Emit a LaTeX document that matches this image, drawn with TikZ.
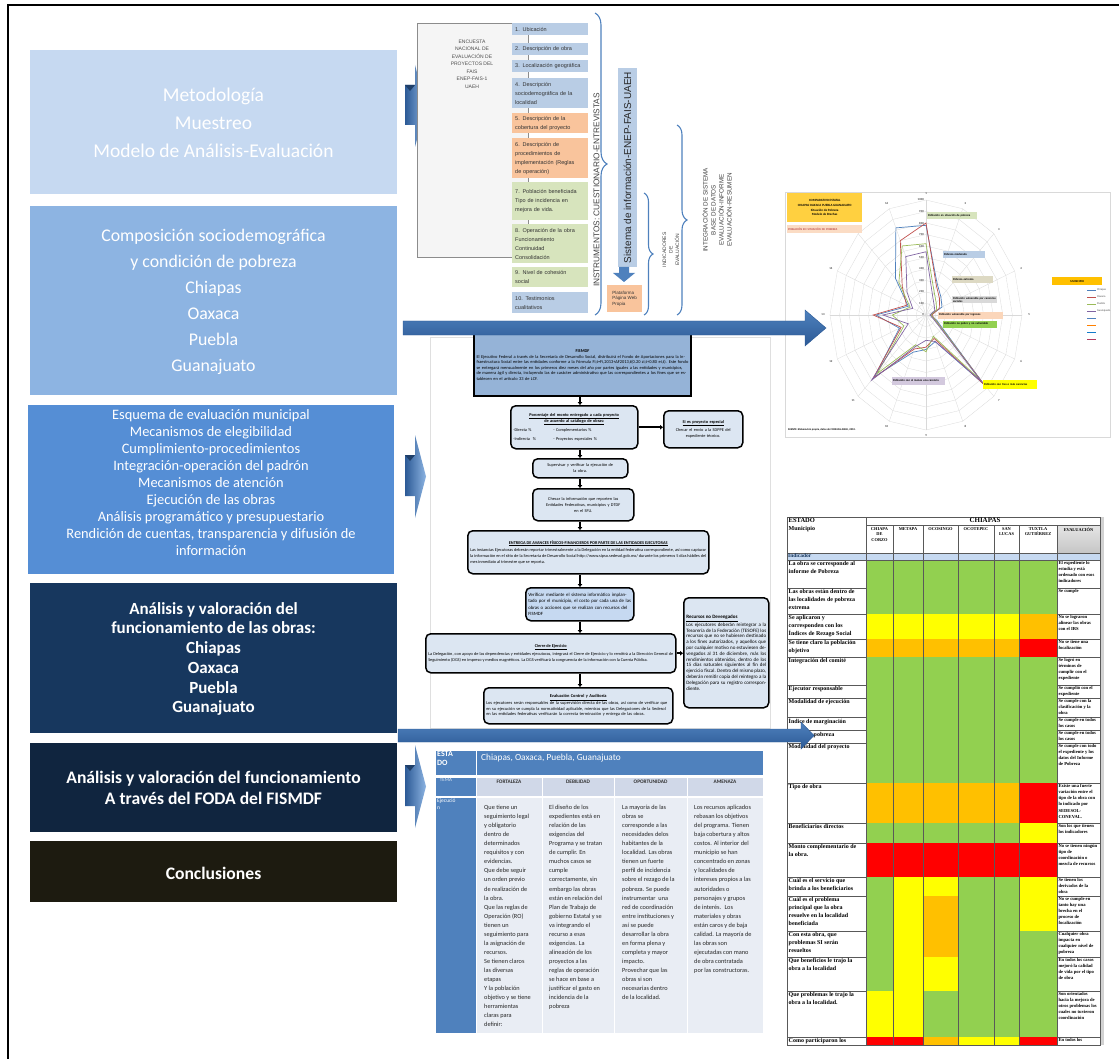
\documentclass[tikz,border=0pt]{standalone}
\usepackage{fontspec}
\setmainfont{Carlito}
\newfontfamily\arialfont{Liberation Sans}
\newfontfamily\timesfont{Liberation Serif}
\usetikzlibrary{positioning,arrows.meta,decorations.pathreplacing}
\newcommand\setfs[2]{\fontsize{#1}{#2}\selectfont}

\definecolor{cMet}{HTML}{C6D9F1}
\definecolor{cSoc}{HTML}{8DB4E2}
\definecolor{cEsq}{HTML}{558ED5}
\definecolor{cAna}{HTML}{17375E}
\definecolor{cFoda}{HTML}{10253F}
\definecolor{cCon}{HTML}{1D1B10}
\definecolor{cItB}{HTML}{B9CDE5}
\definecolor{cItO}{HTML}{F9C49C}
\definecolor{cItG}{HTML}{D7E4BD}
\definecolor{cBrace}{HTML}{4F81BD}
\definecolor{cArr}{HTML}{4F81BD}
\definecolor{cArrD}{HTML}{2C5A96}
\definecolor{cFis}{HTML}{95B3D7}
\definecolor{cFlow}{HTML}{DCE6F2}
\definecolor{tG}{HTML}{92D050}
\definecolor{tY}{HTML}{FFFF00}
\definecolor{tO}{HTML}{FFC000}
\definecolor{tR}{HTML}{FF0000}
\definecolor{cHead}{HTML}{4F81BD}
\definecolor{cHd2}{HTML}{D0D8E8}
\definecolor{cCell}{HTML}{E9EDF4}
\definecolor{cGrid}{HTML}{D9D9D9}
\definecolor{cTan}{HTML}{DDD9C3}
\definecolor{sChi}{HTML}{4F81BD}
\definecolor{sOax}{HTML}{C0504D}
\definecolor{sPue}{HTML}{9BBB59}
\definecolor{sGto}{HTML}{8064A2}

\tikzset{
  lbox/.style={anchor=north west, minimum width=367pt, inner sep=0pt},
  ltext/.style={text=white, align=center, inner sep=0pt},
  item/.style={anchor=north west, text width=70pt, inner sep=3pt, align=left,
    font=\arialfont\setfs{5.5}{9}, text=black!80},
  brc/.style={draw=cBrace, line width=1.1pt, decorate, decoration={brace, amplitude=#1}},
  vlab/.style={rotate=90, align=center, text=black!75, inner sep=0pt},
  fbox/.style={draw=black, line width=1.5pt, rounded corners=5pt, fill=cFlow,
    anchor=north west, inner sep=2.5pt, font=\setfs{4.2}{5.5}, align=left},
  flow/.style={line width=1.8pt, -{Triangle[length=3pt,width=4.5pt]}},
  rlab/.style={font=\bfseries\setfs{3}{3.5}, inner sep=0pt, text=black!70},
  rtag/.style={anchor=north west, inner sep=0.8pt, font=\bfseries\setfs{2.9}{3.4}, align=left},
  trow/.style={anchor=north west, inner sep=1pt, text width=76pt, align=flush left,
    font=\timesfont\bfseries\setfs{6}{8.2}},
  tev/.style={anchor=north west, inner sep=0.8pt, text width=39pt, align=flush left,
    font=\timesfont\bfseries\setfs{4.6}{6.2}},
  thd/.style={anchor=north, inner sep=0.5pt, align=center, font=\timesfont\bfseries\setfs{4.4}{5.3}},
  tline/.style={draw=black!65, line width=0.4pt},
  fcell/.style={draw=white, line width=0.8pt},
  ftxt/.style={anchor=north west, inner sep=0pt, align=left, font=\setfs{6.3}{9.05}, text=black!85},
  fhd/.style={anchor=north, inner sep=0pt, font=\bfseries\setfs{5.3}{6}, text=black!80},
}

\begin{document}
\begin{tikzpicture}[x=1pt,y=-1pt]
\useasboundingbox (0,0) rectangle (1119,1059);
% frame
\draw[line width=2pt] (8,1059) -- (8,5) -- (1119,5);

% left column
\node[lbox, fill=cMet, minimum height=144pt] (met) at (30,50) {};
\node[ltext, font=\setfs{19.5}{28}] (mett) at (213.5,123) {Metodología\\Muestreo\\Modelo de Análisis-Evaluación};
\node[lbox, fill=cSoc, minimum height=189pt] (soc) at (30,206) {};
\node[ltext, font=\setfs{17.8}{26}] (soct) at (213.5,302) {Composición sociodemográfica\\y condición de pobreza\\Chiapas\\Oaxaca\\Puebla\\Guanajuato};
\node[lbox, fill=cEsq, minimum height=169pt, minimum width=366pt] (esq) at (28,405) {};
\node[ltext, font=\setfs{14.4}{17}] (esqt) at (211,483) {Esquema de evaluación municipal\\Mecanismos de elegibilidad\\Cumplimiento-procedimientos\\Integración-operación del padrón\\Mecanismos de atención\\Ejecución de las obras\\Análisis programático y presupuestario\\Rendición de cuentas, transparencia y difusión de\\información};
\node[lbox, fill=cAna, minimum height=150pt] (ana) at (30,583) {};
\node[ltext, font=\bfseries\setfs{17}{19.7}] (anat) at (213.5,659) {Análisis y valoración del\\funcionamiento de las obras:\\Chiapas\\Oaxaca\\Puebla\\Guanajuato};
\node[lbox, fill=cFoda, minimum height=89pt] (foda) at (30,743) {};
\node[ltext, font=\bfseries\setfs{17.6}{20.7}] (fodat) at (213.5,788) {Análisis y valoración del funcionamiento\\A través del FODA del FISMDF};
\node[lbox, fill=cCon, minimum height=61pt] (con) at (30,841) {};
\node[ltext, font=\bfseries\setfs{17.6}{20}] (cont) at (213.5,873) {Conclusiones};

% chevrons
\foreach \ya/\yb in {65/147, 435/518, 745/828} {
  \shade[left color=cArrD, right color=cSoc] (405,\ya+20) -- (415,\ya+20) -- (415,\ya) -- (426,{(\ya+\yb)/2}) -- (415,\yb) -- (415,\yb-22) -- (405,\yb-22) -- cycle;
  \fill[cArrD!70!black] (405,\ya+20) -- (415,\ya+20) -- (410,\ya+26) -- cycle;
}

% encuesta
\node[draw=black!45, fill=gray!8, anchor=north west, minimum width=111pt, minimum height=234pt, inner sep=0pt] (enc) at (417,23) {};
\node[align=center, font=\arialfont\setfs{5}{7.5}, text=black!70] (enct) at (472,64) {ENCUESTA\\NACIONAL DE\\EVALUACIÓN DE\\PROYECTOS DEL\\FAIS\\ENEP-FAIS-1\\UAEH};
\foreach \yt/\h/\col/\txt [count=\k] in {
  23/12/cItB/{1. Ubicación},
  43/12/cItB/{2. Descripción de obra},
  60/12/cItB/{3. Localización geográfica},
  78/30/cItB/{4. Descripción\\sociodemográfica de la\\localidad},
  113/20/cItO/{5. Descripción de la\\cobertura del proyecto},
  138/40/cItO/{6. Descripción de\\procedimientos de\\implementación (Reglas\\de operación)},
  182/38/cItG/{7. Población beneficiada\\Tipo de incidencia en\\mejora de vida.},
  224/39/cItG/{8. Operación de la obra\\Funcionamiento\\Continuidad\\Consolidación},
  267/20/cItG/{9. Nivel de cohesión\\social},
  292/21/cItB/{10. Testimonios\\cualitativos}}
  \node[item, fill=\col, minimum height=\h pt] (it\k) at (512,\yt) {\txt};

% braces
\draw[brc=12pt] (595,13) -- (595,315);
\node[vlab, font=\arialfont\setfs{8.3}{9}] (instr) at (596.5,190) {INSTRUMENTOS: CUESTIONARIO-ENTREVISTAS};
\node[vlab, fill=cItB, minimum width=199pt, minimum height=19pt, font=\arialfont\setfs{10}{11}, text=black!85] (sis) at (627.5,167.5) {Sistema de información-ENEP-FAIS-UAEH};
\fill[cArr] (619,267) -- (629,267) -- (629,273) -- (635,273) -- (624,282) -- (613,273) -- (619,273) -- cycle;
\node[anchor=north west, fill=cItO, minimum width=35pt, minimum height=27pt, inner sep=2pt, align=left, font=\arialfont\setfs{4.5}{5.6}, text=black!80] (plat) at (607,285) {Plataforma\\Página Web\\Propia};
\draw[brc=9pt] (644,193) -- (644,315);
\node[vlab, font=\arialfont\setfs{5}{6.5}] (indic) at (671,250) {INDICADORES\\DE\\EVALUACIÓN};
\draw[brc=10pt] (677,125) -- (677,315);
\node[vlab, font=\arialfont\setfs{6.3}{8}] (integ) at (717,210) {INTEGRACIÓN DE SISTEMA\\BASE DE DATOS\\EVALUACIÓN-INFORME\\EVALUACIÓN-RESUMEN};

% flowchart
\draw[gray!25] (430,337) rectangle (770,728);
\coordinate (axis) at (580,0);
\node[fbox, rounded corners=0pt, fill=cFis, line width=2pt, minimum height=62pt, text width=212pt, font=\setfs{4.4}{5.6}] (fis) at (473,333) {\makebox[212pt]{\textbf{FISMDF}}\\El Ejecutivo Federal a través de la Secretaría de Desarrollo Social, distribuirá el Fondo de Aportaciones para la Infraestructura Social entre las entidades conforme a la Fórmula Fi,t=Fi,2013+ΔF2013,t(0.20 zi,t+0.80 ei,t). Este fondo se entregará mensualmente en los primeros diez meses del año por partes iguales a las entidades y municipios, de manera ágil y directa, incluyendo las de carácter administrativo que las correspondientes a los fines que se establecen en el artículo 33 de LCF.};
\node[fbox, minimum height=43pt, text width=122pt, font=\setfs{4.3}{6}] (pct) at (510,405) {\makebox[122pt]{\underline{\textbf{Porcentaje del monto entregado a cada proyecto}}}\\\makebox[122pt]{\underline{\textbf{de acuerdo al catálogo de obras:}}}\\[3pt]\makebox[40pt][l]{-Directa \%}- Complementarios \%\\[3pt]\makebox[40pt][l]{-Indirecta \ \%}- Proyectos especiales \%};
\node[fbox, minimum height=37pt, text width=74pt, align=center, font=\setfs{4.3}{6}] (esp) at (663,410) {\underline{\textbf{Si es proyecto especial}}\\[2pt]Checar el envío a la SDPPE del\\expediente técnico.};
\node[fbox, minimum height=19pt, text width=90pt, align=center, font=\setfs{4.3}{6}] (sup) at (532,458) {Supervisar y verificar la ejecución de\\la obra.};
\node[fbox, minimum height=32pt, text width=96pt, align=center, font=\setfs{4.3}{6}] (chk) at (532,488) {Checar la información que reporten las\\Entidades Federativas, municipios y DTDF\\en el SFU.};
\node[fbox, minimum height=43pt, text width=236pt, align=justify, font=\setfs{4.3}{5.8}] (ent) at (467,530) {\makebox[236pt]{\underline{\textbf{ENTREGA DE AVANCES FÍSICOS-FINANCIEROS POR PARTE DE LAS ENTIDADES EJECUTORAS}}}\\[2pt]Las instancias Ejecutoras deberán reportar trimestralmente a la Delegación en la entidad federativa correspondiente, así como capturar la información en el sitio de la Secretaría de Desarrollo Social http://www.sipso.sedesol.gob.mx/ durante los primeros 5 días hábiles del mes inmediato al trimestre que se reporta.};
\node[fbox, fill=cMet, minimum height=33pt, text width=103pt, font=\setfs{4.8}{6.6}] (ver) at (525,587) {Verificar mediante el sistema informático implantado por el municipio, el costo por cada una de las obras o acciones que se realizan con recursos del FISMDF};
\node[fbox, minimum height=39pt, text width=245pt, align=justify, font=\setfs{4.3}{5.8}] (cie) at (425,633) {\makebox[245pt]{\underline{\textbf{Cierre de Ejercicio}}}\\[3pt]La Delegación, con apoyo de las dependencias y entidades ejecutoras, integrará el Cierre de Ejercicio y lo remitirá a la Dirección General de Seguimiento (DGS) en impreso y medios magnéticos. La DGS verificará la congruencia de la información con la Cuenta Pública.};
\node[fbox, minimum height=110pt, text width=80pt, align=justify, font=\setfs{5}{5.8}] (rec) at (683,597) {\underline{\textbf{Recursos no Devengados}}\\Los ejecutores deberán reintegrar a la Tesorería de la Federación (TESOFE) los recursos que no se hubiesen destinado a los fines autorizados, y aquellos que por cualquier motivo no estuviesen devengados al 31 de diciembre, más los rendimientos obtenidos, dentro de los 15 días naturales siguientes al fin del ejercicio fiscal. Dentro del mismo plazo, deberán remitir copia del reintegro a la Delegación para su registro correspondiente.};
\node[fbox, minimum height=36pt, text width=184pt, font=\setfs{4.4}{5.7}] (eva) at (483,687) {\makebox[184pt]{\underline{\textbf{Evaluación Control y Auditoría}}}\\Los ejecutores serán responsables de la supervisión directa de las obras, así como de verificar que en su ejecución se cumpla la normatividad aplicable, mientras que las Delegaciones de la Sedesol en las entidades federativas verificarán la correcta terminación y entrega de las obras.};
\draw[flow] (fis.south -| axis) -- (pct.north -| axis);
\draw[flow] (pct.south -| axis) -- (sup.north -| axis);
\draw[flow] (sup.south -| axis) -- (chk.north -| axis);
\draw[flow] (chk.south -| axis) -- (ent.north -| axis);
\draw[flow] (ent.south -| axis) -- (ver.north -| axis);
\draw[flow] (ver.south -| axis) -- (cie.north -| axis);
\draw[flow] (cie.south -| axis) -- (eva.north -| axis);
\draw[flow] (pct.east) -- (esp.west |- pct.east);
\draw[flow] (cie.east) -- (rec.west |- cie.east);

% radar
\draw[gray!30] (785,192) rectangle (1110,437);
\foreach \r in {1,...,10} {
  \draw[cGrid, line width=0.3pt] (926,{315-11.5*\r}) \foreach \i in {1,...,15} { -- ({926+9.6*\r*sin(22.5*\i)},{315-11.5*\r*cos(22.5*\i)}) } -- cycle;
}
\foreach \i in {0,...,15}
  \draw[cGrid, line width=0.3pt] (926,315) -- ({926+96*sin(22.5*\i)},{315-115*cos(22.5*\i)});
\foreach \i [evaluate=\i as \n using int(\i+1)] in {0,...,15}
  \node[rlab] (sp\i) at ({926+103*sin(22.5*\i)},{315-121*cos(22.5*\i)}) {\n};
\foreach \k [evaluate=\k as \val using int(100*\k)] in {0,...,10}
  \node[rlab, anchor=east] (rg\k) at (924,{315-11.5*\k}) {\val};
\foreach \v [count=\i from 0] in {0.78,0.30,0.22,0.18,0.05,0.12,0.85,0.25,0.30,0.35,0.76,0.30,0.52,0.20,0.45,0.82}
  \coordinate (chi\i) at ({926+96*\v*sin(22.5*\i)},{315-115*\v*cos(22.5*\i)});
\foreach \v [count=\i from 0] in {0.80,0.28,0.20,0.15,0.06,0.10,0.86,0.22,0.28,0.32,0.78,0.28,0.55,0.22,0.35,0.70}
  \coordinate (oax\i) at ({926+96*\v*sin(22.5*\i)},{315-115*\v*cos(22.5*\i)});
\foreach \v [count=\i from 0] in {0.62,0.22,0.15,0.12,0.05,0.10,0.80,0.20,0.32,0.28,0.72,0.25,0.35,0.18,0.40,0.65}
  \coordinate (pue\i) at ({926+96*\v*sin(22.5*\i)},{315-115*\v*cos(22.5*\i)});
\foreach \v [count=\i from 0] in {0.55,0.18,0.12,0.10,0.04,0.08,0.82,0.25,0.22,0.30,0.80,0.20,0.45,0.15,0.28,0.55}
  \coordinate (gto\i) at ({926+96*\v*sin(22.5*\i)},{315-115*\v*cos(22.5*\i)});
\draw[sChi, line width=0.7pt] (chi0) \foreach \i in {1,...,15} {-- (chi\i)} -- cycle;
\draw[sOax, line width=0.7pt] (oax0) \foreach \i in {1,...,15} {-- (oax\i)} -- cycle;
\draw[sPue, line width=0.7pt] (pue0) \foreach \i in {1,...,15} {-- (pue\i)} -- cycle;
\draw[sGto, line width=0.7pt] (gto0) \foreach \i in {1,...,15} {-- (gto\i)} -- cycle;
\node[rtag, fill=tO!75, minimum width=75pt, minimum height=29pt, align=center, font=\bfseries\setfs{3.2}{4.6}] (ttl) at (787,193) {COMPARATIVO ESTATAL\\CHIAPAS OAXACA PUEBLA GUANAJUATO\\Situación de Pobreza\\Modelo de Brechas};
\node[rtag, fill=cItO!60, text width=73pt, minimum height=8pt, text=sOax] (pobt) at (787,225) {POBLACIÓN EN SITUACIÓN DE POBREZA};
\node[rtag, fill=cItG, text width=48pt, minimum height=7pt] (tg1) at (927,212) {Población en situación de pobreza};
\node[rtag, fill=cItB, text width=40pt, minimum height=7pt] (tg2) at (943,251) {Pobreza moderada};
\node[rtag, fill=cTan, text width=39pt, minimum height=7pt] (tg3) at (952,276) {Pobreza extrema};
\node[rtag, fill=cGrid, text width=43pt, minimum height=7pt] (tg4) at (952,296) {Población vulnerable por carencias sociales};
\node[rtag, fill=cItO!70, text width=63pt, minimum height=7pt] (tg5) at (938,311.5) {Población vulnerable por ingresos};
\node[rtag, fill=tG, text width=52pt, minimum height=7pt] (tg6) at (943,320.5) {Población no pobre y no vulnerable};
\node[rtag, fill=tY, text width=52pt, minimum height=9pt] (tg7) at (983,380) {Población con tres o más carencias};
\node[rtag, fill=sGto!35, text width=51pt, minimum height=7.5pt] (tg8) at (892,377) {Población con al menos una carencia};
\node[rtag, fill=tO, minimum width=50pt, minimum height=8pt, align=center] (muni) at (1052,277) {MUNICIPIO};
\foreach \nm/\cl [count=\k from 0] in {Chiapas/sChi, Oaxaca/sOax, Puebla/sPue, Guanajuato/sGto} {
  \draw[\cl, line width=0.6pt] (1087,290+7*\k) -- (1096,290+7*\k);
  \node[rlab, anchor=west, font=\setfs{2.8}{3}] (lg\k) at (1097,290+7*\k) {\nm};
}
\foreach \cl [count=\k from 4] in {cArr, orange, cyan!60!blue, sGto!60!red}
  \draw[\cl, line width=0.6pt] (1087,290+7*\k) -- (1096,290+7*\k);
\node[rtag, font=\bfseries\setfs{2.7}{3}] (fte) at (787,428) {FUENTE: Elaboración propia, datos de CONEVAL-INEGI, 2010.};

% table
\fill[gray!35] (1100,517) rectangle (1104,1045);
\shade[top color=gray!20, bottom color=gray!45] (1057,525) rectangle (1100,553);
\fill[cMet] (787,553) rectangle (1100,560);
\foreach \ya/\yb/\lab/\ca/\cb/\cc/\cd/\ce/\cf/\ev [count=\n] in {
  560/588/{La obra se corresponde al\\informe de Pobreza}/tG/tG/tG/tG/tG/tG/{El expediente lo estudia y está ordenado con esos indicadores},
  588/614/{Las obras están dentro de\\las localidades de pobreza\\extrema}/tG/tG/tG/tG/tG/tG/{Se cumple},
  614/639/{Se aplicaron y\\corresponden con los\\Índices de Rezago Social}/tY/tY/tY/tY/tY/tO/{No se lograron alinear las obras con el IRS},
  639/657/{Se tiene claro la población\\objetivo}/tO/tO/tO/tO/tO/tR/{No se tiene una focalización},
  657/685/{Integración del comité}/tG/tG/tG/tG/tG/tG/{Se logró en términos de cumplir con el expediente},
  685/698/{Ejecutor responsable}/tG/tG/tG/tG/tG/tG/{Se cumplió con el expediente},
  698/717/{Modalidad de ejecución}/tG/tG/tG/tG/tG/tG/{Se cumple con la clasificación y la obra},
  717/730/{Índice de marginación}/tG/tG/tG/tG/tG/tG/{Se cumple en todos los casos},
  730/743/{Índice de pobreza}/tG/tG/tG/tG/tG/tG/{Se cumple en todos los casos},
  743/783/{Modalidad del proyecto}/tG/tG/tG/tG/tG/tG/{Se cumple con todo el expediente y los datos del Informe de Pobreza},
  783/823/{Tipo de obra}/tO/tO/tO/tO/tO/tR/{Existe una fuerte variación entre el tipo de la obra con lo indicado por SEDESOL-CONEVAL.},
  823/843/{Beneficiarios directos}/tG/tG/tG/tG/tG/tY/{Son los que tienen los indicadores},
  843/877/{Monto complementario de\\la obra.}/tR/tR/tR/tR/tR/tR/{No se tienen ningún tipo de coordinación o mezcla de recursos},
  877/896/{Cuál es el servicio que\\brinda a los beneficiarios}/tG/tY/tY/tG/tG/tY/{Se tienen los derivados de la obra},
  896/931/{Cuál es el problema\\principal que la obra\\resuelve en la localidad\\beneficiada}/tG/tY/tO/tG/tG/tY/{No se cumple en tanto hay una brecha en el proceso de focalización},
  931/957/{Con esta obra, que\\problemas SI serán\\resueltos}/tG/tY/tO/tG/tG/tG/{Cualquier obra impacta en cualquier nivel de pobreza},
  957/991/{Que beneficios le trajo la\\obra a la localidad}/tG/tY/tY/tG/tG/tG/{En todos los casos mejoró la calidad de vida por el tipo de obra},
  991/1037/{Que problemas le trajo la\\obra a la localidad.}/tY/tY/tG/tG/tG/tG/{Son orientados hacia la mejora de otros problemas los cuales no tuvieron coordinación},
  1037/1045/{Como participaron los}/tR/tR/tO/tY/tY/tR/{En todos los}} {
  \fill[fill=\ca] (866,\ya) rectangle (893,\yb);
  \fill[fill=\cb] (893,\ya) rectangle (923,\yb);
  \fill[fill=\cc] (923,\ya) rectangle (958,\yb);
  \fill[fill=\cd] (958,\ya) rectangle (994,\yb);
  \fill[fill=\ce] (994,\ya) rectangle (1019,\yb);
  \fill[fill=\cf] (1019,\ya) rectangle (1057,\yb);
  \draw[tline] (787,\yb) -- (1100,\yb);
  \node[trow] (row\n) at (787.5,\ya) {\lab};
  \node[tev] (ev\n) at (1057.5,\ya) {\ev};
}
\draw[tline] (787,517) rectangle (1100,1045);
\draw[tline] (866,517) -- (866,1045);
\draw[tline] (866,525) -- (1100,525);
\draw[tline] (787,553) -- (1100,553);
\draw[tline] (787,560) -- (1100,560);
\foreach \xx in {893,923,958,994,1019,1057}
  \draw[tline] (\xx,525) -- (\xx,1045);
\node[trow, font=\timesfont\bfseries\setfs{6.5}{7}] (estado) at (787.5,517) {ESTADO};
\node[trow] (munic) at (787.5,525.5) {Municipio};
\node[thd, font=\timesfont\bfseries\setfs{7}{7}] (chiapas) at (985,517) {CHIAPAS};
\foreach \cx/\nm [count=\k] in {879.5/{CHIAPA\\DE\\CORZO}, 908/METAPA, 940.5/OCOSINGO, 976/OCOTEPEC, 1006.5/{SAN\\LUCAS}, 1038/{TUXTLA\\GUTIÉRREZ}, 1078.5/EVALUACIÓN}
  \node[thd] (mun\k) at (\cx,527) {\nm};
\node[trow, font=\timesfont\bfseries\setfs{5.5}{6}, inner sep=0.5pt, text=cAna] (indicador) at (787.5,553) {Indicador};

% FODA
\fill[cHead, fcell] (435,750) rectangle (476,775);
\fill[cHead, fcell] (476,750) rectangle (763,775);
\fill[cHead, fcell] (435,777) rectangle (476,796);
\foreach \xa/\xb in {476/542, 542/614, 614/687, 687/763} {
  \fill[cHd2, fcell] (\xa,777) rectangle (\xb,796);
  \fill[cCell, fcell] (\xa,797) rectangle (\xb,1033);
}
\fill[cHead, fcell] (435,797) rectangle (476,1033);
\node[anchor=north west, inner sep=0pt, align=left, text=white, font=\bfseries\setfs{8}{9.5}] (estd) at (437,751) {ESTA\\DO};
\node[anchor=west, inner sep=0pt, text=white, font=\setfs{9.3}{10}] (ests) at (481,758) {Chiapas, Oaxaca, Puebla, Guanajuato};
\node[anchor=north, inner sep=0pt, text=white!85!cHead, font=\setfs{5}{6}] (tema) at (446,778.5) {TEMA};
\node[fhd] (hfor) at (509,780) {FORTALEZA};
\node[fhd] (hdeb) at (578,780) {DEBILIDAD};
\node[fhd] (hopo) at (650.5,780) {OPORTUNIDAD};
\node[fhd] (hame) at (725,780) {AMENAZA};
\node[anchor=north west, inner sep=0pt, align=left, text=white, font=\setfs{5.5}{6.5}] (ejec) at (437,799) {Ejecució\\n};
\node[ftxt] (tfor) at (484,805) {Que tiene un\\seguimiento legal\\y obligatorio\\dentro de\\determinados\\requisitos y con\\evidencias.\\Que debe seguir\\un orden previo\\de realización de\\la obra.\\Que las reglas de\\Operación (RO)\\tienen un\\seguimiento para\\la asignación de\\recursos.\\Se tienen claros\\las diversas\\etapas\\Y la población\\objetivo y se tiene\\herramientas\\claras para\\definir:};
\node[ftxt] (tdeb) at (549,805) {El diseño de los\\expedientes está en\\relación de las\\exigencias del\\Programa y se tratan\\de cumplir. En\\muchos casos se\\cumple\\correctamente, sin\\embargo las obras\\están en relación del\\Plan de Trabajo de\\gobierno Estatal y se\\va integrando el\\recurso a esas\\exigencias. La\\alineación de los\\proyectos a las\\reglas de operación\\se hace en base a\\justificar el gasto en\\incidencia de la\\pobreza};
\node[ftxt] (topo) at (622,805) {La mayoría de las\\obras se\\corresponde a las\\necesidades delos\\habitantes de la\\localidad. Las obras\\tienen un fuerte\\perfil de incidencia\\sobre el rezago de la\\pobreza. Se puede\\instrumentar \ una\\red de coordinación\\entre instituciones y\\así se puede\\desarrollar la obra\\en forma plena y\\completa y mayor\\impacto.\\Provechar que las\\obras si son\\necesarias dentro\\de la localidad.};
\node[ftxt] (tame) at (694,805) {Los recursos aplicados\\rebasan los objetivos\\del programa. Tienen\\baja cobertura y altos\\costos. Al interior del\\municipio se han\\concentrado en zonas\\y localidades de\\intereses propios a las\\autoridades o\\personajes y grupos\\de interés. \ Los\\materiales y obras\\están caros y de baja\\calidad. La mayoría de\\las obras son\\ejecutadas con mano\\de obra contratada\\por las constructoras.};

% long arrows
\shade[top color=cArr, bottom color=cArrD, draw=cArrD] (403,321) -- (805,321) -- (805,310) -- (826,328) -- (805,346) -- (805,335) -- (403,335) -- cycle;
\shade[top color=cArr, bottom color=cArrD, draw=cArrD] (398,729) -- (801,729) -- (801,722) -- (814,735.5) -- (801,749) -- (801,742) -- (398,742) -- cycle;
\end{tikzpicture}
\end{document}
